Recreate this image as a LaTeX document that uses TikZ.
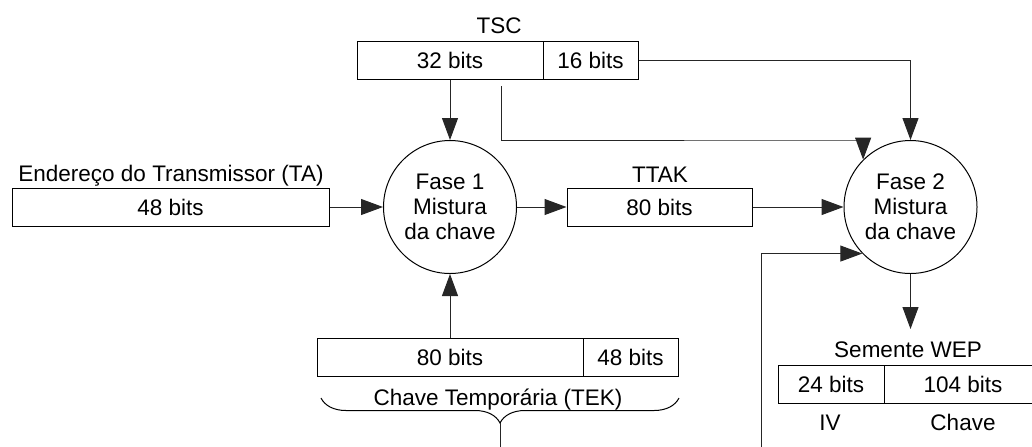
\documentclass[tikz,border=0pt]{standalone}
\usepackage{fontspec}
\setmainfont{Liberation Sans}
\usetikzlibrary{arrows.meta,decorations.pathreplacing,calc}
\begin{document}
\begin{tikzpicture}[x=0.5pt,y=-0.5pt,
  font=\fontsize{11.25}{12.5}\selectfont,
  cell/.style={draw=black,line width=0.5pt,minimum height=19pt,inner sep=0pt,anchor=center},
  mix/.style={draw=black,line width=0.5pt,circle,minimum size=66.5pt,inner sep=0pt,align=center},
  lbl/.style={inner sep=0pt,anchor=base},
  conn/.style={draw=black!85,line width=0.5pt},
  arr/.style={conn,-{Triangle[length=11pt,width=8pt]}},
]
\clip (0,0) rectangle (1032,446);
% TSC
\node[lbl] (tsclbl) at (499,33) {TSC};
\node[cell,minimum width=93pt] (tsc32) at (450,60.5) {32 bits};
\node[cell,minimum width=47.5pt] (tsc16) at (590.5,60.5) {16 bits};
% TA
\node[lbl] (talbl) at (171,181) {Endereço do Transmissor (TA)};
\node[cell,minimum width=158.5pt] (ta) at (170.5,207) {48 bits};
% Phase circles
\node[mix] (f1) at (450,207) {Fase 1\\Mistura\\da chave};
\node[mix] (f2) at (910.5,207) {Fase 2\\Mistura\\da chave};
% TTAK
\node[lbl] (ttaklbl) at (660,182) {TTAK};
\node[cell,minimum width=92.5pt] (ttak) at (659.5,207) {80 bits};
% TEK
\node[cell,minimum width=133pt] (tek80) at (450,357) {80 bits};
\node[cell,minimum width=47.5pt] (tek48) at (630.5,357) {48 bits};
\node[lbl] (teklbl) at (498,405) {Chave Temporária (TEK)};
\draw[line width=0.5pt,decorate,decoration={brace,mirror,amplitude=12.5pt}] (321,398) -- (679,398);
\coordinate (bt) at (500,423);
\coordinate (btend) at (500,452);
\draw[conn] (bt) -- (btend);
% WEP seed
\node[lbl] (weplbl) at (908,357) {Semente WEP};
\node[cell,minimum width=53pt] (wep24) at (831,384) {24 bits};
\node[cell,minimum width=79pt] (wep104) at (963,384) {104 bits};
\node[lbl] (ivlbl) at (830,430) {IV};
\node[lbl] (chlbl) at (963,430) {Chave};
% connectors
\draw[arr] (tsc32.south) -- (f1.north);
\coordinate (c32) at (501,86);
\draw[arr] (c32) |- (f1.north -| 863,112) -| (f2.135.6);
\draw[arr] (tsc16.east) -| (f2.north);
\draw[arr] (ta.east) -- (f1.west);
\draw[arr] (f1.east) -- (ttak.west);
\draw[arr] (ttak.east) -- (f2.west);
\draw[arr] (tek80.north) -- (f1.south);
\coordinate (wepin) at (910.5,329);
\draw[arr] (f2.south) -- (wepin);
\coordinate (fb) at (761,452);
\draw[arr] (fb) |- (f2.224.6);
\end{tikzpicture}
\end{document}
